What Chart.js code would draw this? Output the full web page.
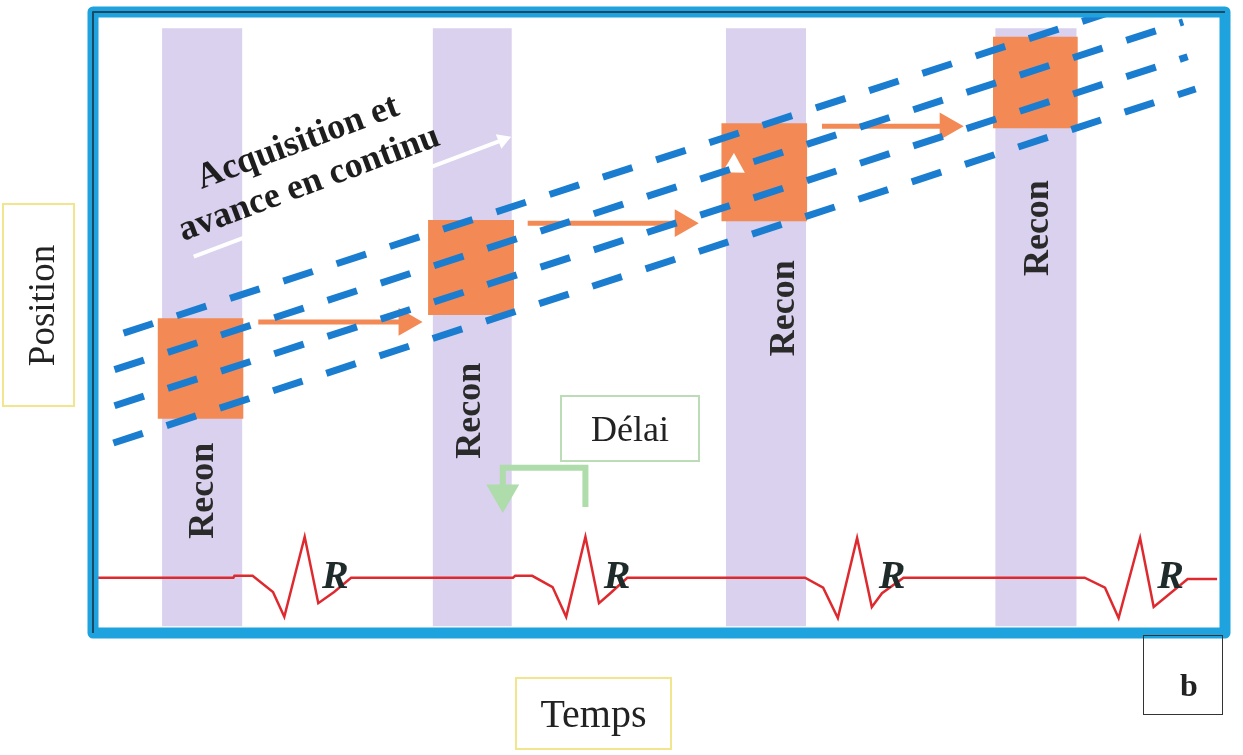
<!DOCTYPE html>
<html>
<head>
<meta charset="utf-8">
<script src="https://cdn.jsdelivr.net/npm/chart.js@4.4.1/dist/chart.umd.min.js"></script>
<style>
    body { margin: 0; background: #fff; }
    #wrap { position: relative; width: 1243px; height: 755px; }
    .box {
        position: absolute; box-sizing: border-box;
        font-family: "Liberation Serif", serif; color: #222;
        display: flex; align-items: center; justify-content: center;
    }
    #posBox { left: 2px; top: 203px; width: 73px; height: 204px; border: 2px solid #f1e58d; font-size: 37px; }
    #posBox span { transform: rotate(-90deg); white-space: nowrap; position: relative; left: 3px; }
    #timeBox { left: 515px; top: 677px; width: 157px; height: 73px; border: 2px solid #f1e58d; font-size: 40px; }
    #delayBox { left: 560px; top: 395px; width: 140px; height: 67px; border: 2px solid #bcdcb7; font-size: 36px; }
    #panelBox { left: 1143px; top: 635px; width: 80px; height: 80px; border: 1.5px solid #333; font-size: 32px; font-weight: bold; }
    #panelBox span { position: relative; left: 6px; top: 10px; }
</style>
</head>
<body>
<div id="wrap">
    <canvas id="chart" width="1243" height="755"></canvas>
    <div class="box" id="posBox"><span>Position</span></div>
    <div class="box" id="timeBox">Temps</div>
    <div class="box" id="delayBox">Délai</div>
    <div class="box" id="panelBox"><span>b</span></div>
</div>
<script>
// time runs 0..100 across the frame, position 0..100 from bottom to top

// reconstruction windows (purple bands)
const reconStart = [6.1, 30.0, 55.9, 79.7];
const reconEnd = [13.2, 37.0, 63.0, 86.9];
const reconTop = 97.4;
const reconBottom = 1.1;
const reconLabelT = [9.8, 33.4, 61.1, 83.5];
const reconLabelP = [22.9, 35.8, 52.3, 65.2];

// acquired slabs (orange squares)
const slabStart = [5.7, 29.6, 55.5, 79.5];
const slabEnd = [13.3, 37.2, 63.1, 87.0];
const slabTop = [50.7, 66.5, 82.1, 96.0];
const slabBottom = [34.5, 51.2, 66.3, 81.3];

// table moves between slabs (orange arrows)
const moveFrom = [14.6, 38.4, 64.4];
const moveTo = [27.7, 52.1, 75.5];
const moveLevel = [50.1, 66.0, 81.6];

// continuous acquisition tracks (blue dashed)
const trackStartT = [2.7, 1.9, 1.9, 1.8];
const trackStartP = [48.3, 42.4, 36.6, 30.6];
const trackEndT = [96.5, 96.3, 96.7, 97.4];
const trackEndP = [103.9, 98.4, 92.8, 87.6];

// white arrow along the text
const advanceT = [8.9, 36.2];
const advanceP = [60.6, 79.4];
const advanceHeadT = 56.6;
const advanceHeadP = 75.2;
const captionLines = ['Acquisition et', 'avance en continu'];
const captionT = [18.4, 19.4];
const captionP = [77.5, 70.9];

// ECG trace
const ecgTime = [0.4, 12.4, 12.5, 14.1, 15.9, 16.9, 18.7, 19.9, 21.3, 22.8,
    37.1, 37.3, 38.8, 40.6, 41.8, 43.5, 44.7, 45.7, 47.2,
    62.9, 64.5, 65.8, 67.5, 68.8, 69.7, 71.6,
    87.6, 89.4, 90.6, 92.5, 93.7, 96.7, 99.3];
const ecgLevel = [8.9, 8.9, 9.2, 9.2, 6.6, 2.6, 15.5, 4.8, 6.6, 8.9,
    8.9, 9.2, 9.2, 7.4, 2.6, 15.5, 4.8, 6.4, 8.9,
    8.9, 7.3, 2.4, 15.3, 4.2, 6.4, 8.9,
    8.9, 7.3, 2.4, 15.3, 4.2, 8.7, 8.7];
const rLabelT = [21.4, 46.3, 70.6, 95.2];
const rLabelP = 8.9;

// delay bracket (green)
const delayT = [43.5, 43.5, 36.2, 36.2];
const delayP = [20.3, 26.6, 26.6, 22.4];

const orange = '#f38a55';
const datasets = [];

reconStart.forEach((t, i) => {
    datasets.push({
        data: [{x: t, y: reconTop}, {x: reconEnd[i], y: reconTop}],
        fill: {value: reconBottom},
        backgroundColor: '#d9d1ee',
        borderWidth: 0,
        order: 6
    });
});

slabStart.forEach((t, i) => {
    datasets.push({
        data: [{x: t, y: slabTop[i]}, {x: slabEnd[i], y: slabTop[i]}],
        fill: {value: slabBottom[i]},
        backgroundColor: orange,
        borderWidth: 0,
        order: 5
    });
});

moveFrom.forEach((t, i) => {
    datasets.push({
        data: [{x: t, y: moveLevel[i]}, {x: moveTo[i], y: moveLevel[i]}],
        borderColor: orange,
        borderWidth: 5,
        pointRadius: [0, 16],
        pointStyle: 'triangle',
        pointRotation: 90,
        pointBackgroundColor: orange,
        pointBorderWidth: 0,
        order: 4
    });
});

datasets.push({
    data: advanceT.map((t, i) => ({x: t, y: advanceP[i]})),
    borderColor: '#ffffff',
    borderWidth: 4,
    pointRadius: [0, 9],
    pointStyle: 'triangle',
    pointRotation: 69,
    pointBackgroundColor: '#ffffff',
    pointBorderWidth: 0,
    order: 3
});
datasets.push({
    data: [{x: advanceHeadT, y: advanceHeadP}],
    showLine: false,
    pointRadius: 13,
    pointStyle: 'triangle',
    pointRotation: 121,
    pointBackgroundColor: '#ffffff',
    pointBorderWidth: 0,
    order: 3
});

datasets.push({
    data: delayT.map((t, i) => ({x: t, y: delayP[i]})),
    borderColor: '#aedcaa',
    borderWidth: 6,
    borderJoinStyle: 'miter',
    pointRadius: [0, 0, 0, 19],
    pointStyle: 'triangle',
    pointRotation: 180,
    pointBackgroundColor: '#aedcaa',
    pointBorderWidth: 0,
    order: 3
});

trackStartT.forEach((t, i) => {
    datasets.push({
        data: [{x: t, y: trackStartP[i]}, {x: trackEndT[i], y: trackEndP[i]}],
        borderColor: '#1a7dcf',
        borderWidth: 7,
        borderDash: [31, 25],
        order: 2
    });
});

datasets.push({
    data: ecgTime.map((t, i) => ({x: t, y: ecgLevel[i]})),
    borderColor: '#de2a2f',
    borderWidth: 2.5,
    order: 1
});

const framePlugin = {
    id: 'frame',
    afterDatasetsDraw(chart) {
        const {ctx, chartArea: a, scales: {x, y}} = chart;
        ctx.save();
        ctx.lineJoin = 'round';
        ctx.strokeStyle = '#1fa3df';
        ctx.lineWidth = 11;
        ctx.strokeRect(a.left, a.top, a.right - a.left, a.bottom - a.top);
        ctx.strokeStyle = '#1b4a62';
        ctx.lineWidth = 2;
        ctx.beginPath();
        ctx.moveTo(a.left, a.bottom);
        ctx.lineTo(a.left, a.top);
        ctx.lineTo(a.right, a.top);
        ctx.stroke();

        // Recon labels
        ctx.fillStyle = '#2a2a2a';
        ctx.font = 'bold 36px "Liberation Serif"';
        ctx.textAlign = 'center';
        ctx.textBaseline = 'middle';
        reconLabelT.forEach((t, i) => {
            ctx.save();
            ctx.translate(x.getPixelForValue(t), y.getPixelForValue(reconLabelP[i]));
            ctx.rotate(-Math.PI / 2);
            ctx.fillText('Recon', 0, 0);
            ctx.restore();
        });

        // caption along the white arrow
        ctx.textBaseline = 'alphabetic';
        ctx.fillStyle = '#1e1e1e';
        captionLines.forEach((txt, i) => {
            ctx.save();
            ctx.translate(x.getPixelForValue(captionT[i]), y.getPixelForValue(captionP[i]));
            ctx.rotate(-20.5 * Math.PI / 180);
            ctx.fillText(txt, 0, 0);
            ctx.restore();
        });

        // R waves
        ctx.font = 'bold italic 40px "Liberation Serif"';
        ctx.textBaseline = 'middle';
        ctx.fillStyle = '#1f2b2b';
        rLabelT.forEach(t => {
            ctx.fillText('R', x.getPixelForValue(t), y.getPixelForValue(rLabelP));
        });
        ctx.restore();
    }
};

new Chart(document.getElementById('chart').getContext('2d'), {
    type: 'line',
    data: {datasets: datasets},
    options: {
        responsive: false,
        animation: false,
        events: [],
        layout: {autoPadding: false, padding: {left: 93, top: 12, right: 18, bottom: 122}},
        elements: {point: {radius: 0}, line: {tension: 0}},
        scales: {
            x: {type: 'linear', min: 0, max: 100, display: false},
            y: {type: 'linear', min: 0, max: 100, display: false}
        },
        plugins: {legend: {display: false}, tooltip: {enabled: false}}
    },
    plugins: [framePlugin]
});
</script>
</body>
</html>
